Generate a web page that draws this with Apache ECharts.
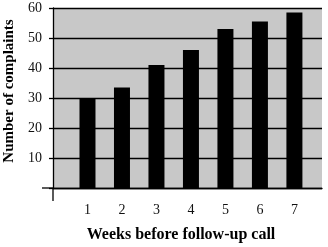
<!DOCTYPE html>
<html><head><meta charset="utf-8">
<script src="https://cdn.jsdelivr.net/npm/echarts@6/dist/echarts.min.js"></script>
<style>html,body{margin:0;padding:0;background:#fff}#c{width:328px;height:247px}</style>
</head><body><div id="c"></div>
<script>
const weeks = [1, 2, 3, 4, 5, 6, 7];
const complaints = [30, 33.5, 41, 46, 53, 55.5, 58.5];
const yTicks = [10, 20, 30, 40, 50, 60];
const xTitle = 'Weeks before follow-up call';
const yTitle = 'Number of complaints';

const serif = '"Liberation Serif", "DejaVu Serif", serif';
const chart = echarts.init(document.getElementById('c'), null, {renderer: 'canvas'});
chart.setOption({
  animation: false,
  grid: {left: 53, right: 6, top: 8, bottom: 59, show: true, backgroundColor: '#c8c8c8', borderWidth: 0},
  xAxis: {
    type: 'value', min: 0, max: 7.8, interval: 1,
    axisLine: {show: true, onZero: false, lineStyle: {color: '#000', width: 1.3}},
    axisTick: {show: false}, splitLine: {show: false},
    axisLabel: {fontFamily: serif, fontSize: 14, color: '#111', margin: 15,
      showMinLabel: true, showMaxLabel: true,
      formatter: v => weeks.includes(v) ? String(v) : ''}
  },
  yAxis: {
    type: 'value', min: 0, max: 60, interval: 10,
    axisLine: {show: true, lineStyle: {color: '#000', width: 1.3}},
    axisTick: {show: true, length: 4, lineStyle: {color: '#000', width: 1.3}},
    splitLine: {show: true, lineStyle: {color: '#000', width: 1.3}},
    axisLabel: {fontFamily: serif, fontSize: 14, color: '#111', margin: 11,
      formatter: v => yTicks.includes(v) ? String(v) : ''}
  },
  series: [{
    type: 'bar',
    data: weeks.map((w, i) => [w, complaints[i]]),
    barWidth: 16,
    itemStyle: {color: '#000'}
  }]
});

const o = chart.convertToPixel({gridIndex: 0}, [0, 0]);
chart.setOption({
  graphic: [
    {type: 'line', shape: {x1: o[0] - 11, y1: o[1], x2: o[0], y2: o[1]}, style: {stroke: '#000', lineWidth: 1.3}},
    {type: 'line', shape: {x1: o[0], y1: o[1], x2: o[0], y2: o[1] + 13}, style: {stroke: '#000', lineWidth: 1.3}},
    {type: 'text', x: 9, y: 91, rotation: Math.PI / 2,
      style: {text: yTitle, fontFamily: serif, fontSize: 15, fontWeight: 'bold', fill: '#000',
        align: 'center', verticalAlign: 'middle', textAlign: 'center', textVerticalAlign: 'middle'}},
    {type: 'text', x: 181, y: 235,
      style: {text: xTitle, fontFamily: serif, fontSize: 16, fontWeight: 'bold', fill: '#000',
        align: 'center', verticalAlign: 'middle', textAlign: 'center', textVerticalAlign: 'middle'}}
  ]
});
</script>
</body></html>
